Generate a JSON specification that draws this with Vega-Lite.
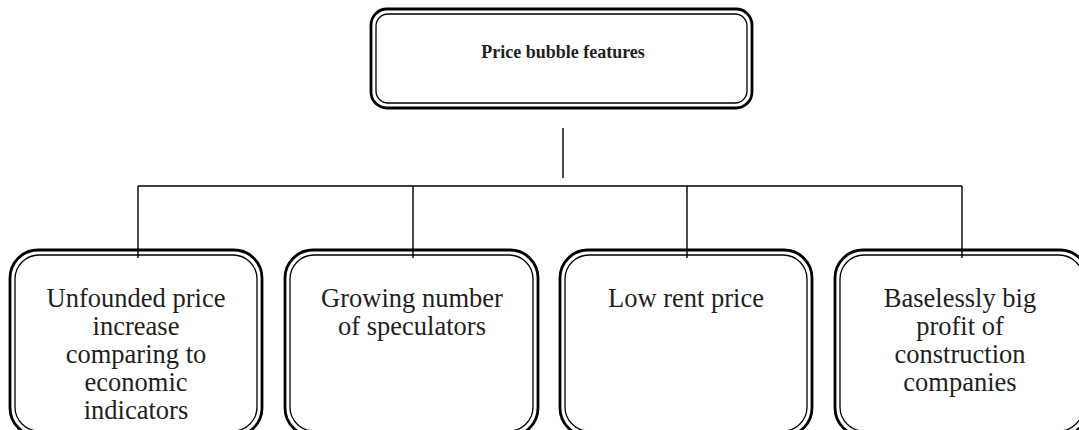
{
  "$schema": "https://vega.github.io/schema/vega-lite/v6.json",
  "width": 1079,
  "height": 430,
  "autosize": {"type": "none"},
  "padding": 0,
  "background": "white",
  "config": {"view": {"stroke": null}},
  "datasets": {
    "boxes": [
      {"box": "Price bubble features", "level": "top", "left": 371, "right": 752, "top": 9, "bottom": 108},
      {"box": "Unfounded price increase", "level": "bottom", "left": 10, "right": 262, "top": 250, "bottom": 436},
      {"box": "Growing number of speculators", "level": "bottom", "left": 285, "right": 538, "top": 250, "bottom": 436},
      {"box": "Low rent price", "level": "bottom", "left": 560, "right": 812, "top": 250, "bottom": 436},
      {"box": "Baselessly big profit", "level": "bottom", "left": 835, "right": 1088, "top": 250, "bottom": 436}
    ],
    "links": [
      {"x": 563, "x2": 563, "y": 128, "y2": 178},
      {"x": 138, "x2": 962, "y": 186, "y2": 186},
      {"x": 138, "x2": 138, "y": 186, "y2": 258},
      {"x": 413, "x2": 413, "y": 186, "y2": 258},
      {"x": 687, "x2": 687, "y": 186, "y2": 258},
      {"x": 962, "x2": 962, "y": 186, "y2": 258}
    ],
    "labels": [
      {"label": "Price bubble features", "level": "top", "cx": 563, "cy": 53},
      {"label": "Unfounded price\nincrease\ncomparing to\neconomic\nindicators", "level": "bottom", "cx": 136, "cy": 286},
      {"label": "Growing number\nof speculators", "level": "bottom", "cx": 412, "cy": 286},
      {"label": "Low rent price", "level": "bottom", "cx": 686, "cy": 286},
      {"label": "Baselessly big\nprofit of\nconstruction\ncompanies", "level": "bottom", "cx": 960, "cy": 286}
    ]
  },
  "layer": [
    {
      "data": {"name": "boxes"},
      "transform": [{"filter": "datum.level === 'top'"}],
      "mark": {"type": "rect", "fill": null, "stroke": "black", "strokeWidth": 2.8, "cornerRadius": 16, "clip": true},
      "encoding": {
        "x": {"field": "left", "type": "quantitative", "scale": {"domain": [0, 1079], "range": [0, 1079]}, "axis": null},
        "x2": {"field": "right"},
        "y": {"field": "top", "type": "quantitative", "scale": {"domain": [0, 430], "range": [0, 430]}, "axis": null},
        "y2": {"field": "bottom"}
      }
    },
    {
      "data": {"name": "boxes"},
      "transform": [{"filter": "datum.level === 'top'"}],
      "mark": {"type": "rect", "fill": null, "stroke": "black", "strokeWidth": 1.3, "cornerRadius": 12, "xOffset": 5, "x2Offset": -5, "yOffset": 5, "y2Offset": -5, "clip": true},
      "encoding": {
        "x": {"field": "left", "type": "quantitative", "scale": {"domain": [0, 1079], "range": [0, 1079]}, "axis": null},
        "x2": {"field": "right"},
        "y": {"field": "top", "type": "quantitative", "scale": {"domain": [0, 430], "range": [0, 430]}, "axis": null},
        "y2": {"field": "bottom"}
      }
    },
    {
      "data": {"name": "boxes"},
      "transform": [{"filter": "datum.level === 'bottom'"}],
      "mark": {"type": "rect", "fill": null, "stroke": "black", "strokeWidth": 2.8, "cornerRadius": 28, "clip": true},
      "encoding": {
        "x": {"field": "left", "type": "quantitative", "scale": {"domain": [0, 1079], "range": [0, 1079]}, "axis": null},
        "x2": {"field": "right"},
        "y": {"field": "top", "type": "quantitative", "scale": {"domain": [0, 430], "range": [0, 430]}, "axis": null},
        "y2": {"field": "bottom"}
      }
    },
    {
      "data": {"name": "boxes"},
      "transform": [{"filter": "datum.level === 'bottom'"}],
      "mark": {"type": "rect", "fill": null, "stroke": "black", "strokeWidth": 1.3, "cornerRadius": 24, "xOffset": 5, "x2Offset": -5, "yOffset": 5, "y2Offset": -5, "clip": true},
      "encoding": {
        "x": {"field": "left", "type": "quantitative", "scale": {"domain": [0, 1079], "range": [0, 1079]}, "axis": null},
        "x2": {"field": "right"},
        "y": {"field": "top", "type": "quantitative", "scale": {"domain": [0, 430], "range": [0, 430]}, "axis": null},
        "y2": {"field": "bottom"}
      }
    },
    {
      "data": {"name": "links"},
      "mark": {"type": "rule", "stroke": "black", "strokeWidth": 1.4},
      "encoding": {
        "x": {"field": "x", "type": "quantitative", "scale": {"domain": [0, 1079], "range": [0, 1079]}, "axis": null},
        "x2": {"field": "x2"},
        "y": {"field": "y", "type": "quantitative", "scale": {"domain": [0, 430], "range": [0, 430]}, "axis": null},
        "y2": {"field": "y2"}
      }
    },
    {
      "data": {"name": "labels"},
      "transform": [{"filter": "datum.level === 'top'"}],
      "mark": {"type": "text", "font": "Liberation Serif", "fontSize": 18, "fontWeight": "bold", "color": "#231f20", "align": "center", "baseline": "middle"},
      "encoding": {
        "x": {"field": "cx", "type": "quantitative", "scale": {"domain": [0, 1079], "range": [0, 1079]}, "axis": null},
        "y": {"field": "cy", "type": "quantitative", "scale": {"domain": [0, 430], "range": [0, 430]}, "axis": null},
        "text": {"field": "label"}
      }
    },
    {
      "data": {"name": "labels"},
      "transform": [{"filter": "datum.level === 'bottom'"}],
      "mark": {"type": "text", "font": "Liberation Serif", "fontSize": 26.5, "color": "#231f20", "align": "center", "baseline": "top", "lineBreak": "\n", "lineHeight": 28},
      "encoding": {
        "x": {"field": "cx", "type": "quantitative", "scale": {"domain": [0, 1079], "range": [0, 1079]}, "axis": null},
        "y": {"field": "cy", "type": "quantitative", "scale": {"domain": [0, 430], "range": [0, 430]}, "axis": null},
        "text": {"field": "label"}
      }
    }
  ]
}
